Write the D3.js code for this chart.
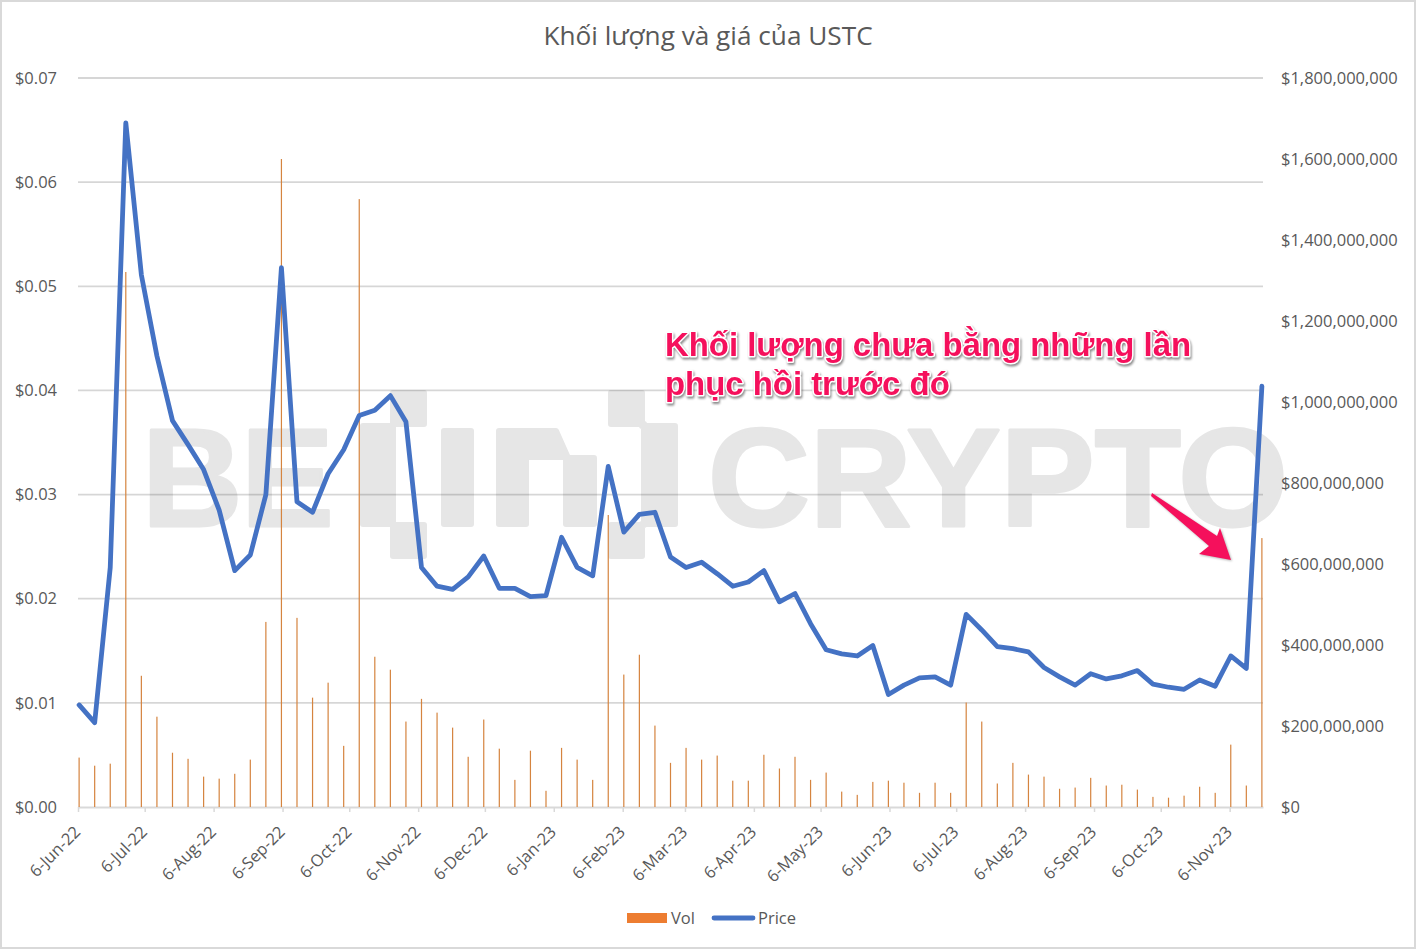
<!DOCTYPE html>
<html lang="vi">
<head>
<meta charset="utf-8">
<title>Khối lượng và giá của USTC</title>
<script src="https://cdn.jsdelivr.net/npm/d3@7/dist/d3.min.js"></script>
<style>
html,body{margin:0;padding:0;background:#fff;}
svg{display:block;}
text{font-family:"Open Sans",sans-serif;fill:#595959;}
</style>
</head>
<body>
<svg id="chart" width="1416" height="949"></svg>
<script>
const titleText = "Khối lượng và giá của USTC";
const noteLines = ["Khối lượng chưa bằng những lần", "phục hồi trước đó"];
const legendNames = ["Vol", "Price"];

const dates = [
"2022-06-06","2022-06-13","2022-06-20","2022-06-27","2022-07-04","2022-07-11","2022-07-18","2022-07-25",
"2022-08-01","2022-08-08","2022-08-15","2022-08-22","2022-08-29","2022-09-05","2022-09-12","2022-09-19","2022-09-26",
"2022-10-03","2022-10-10","2022-10-17","2022-10-24","2022-10-31","2022-11-07","2022-11-14","2022-11-21","2022-11-28",
"2022-12-05","2022-12-12","2022-12-19","2022-12-26","2023-01-02","2023-01-09","2023-01-16","2023-01-23","2023-01-30",
"2023-02-06","2023-02-13","2023-02-20","2023-02-27","2023-03-06","2023-03-13","2023-03-20","2023-03-27",
"2023-04-03","2023-04-10","2023-04-17","2023-04-24","2023-05-01","2023-05-08","2023-05-15","2023-05-22","2023-05-29",
"2023-06-05","2023-06-12","2023-06-19","2023-06-26","2023-07-03","2023-07-10","2023-07-17","2023-07-24","2023-07-31",
"2023-08-07","2023-08-14","2023-08-21","2023-08-28","2023-09-04","2023-09-11","2023-09-18","2023-09-25",
"2023-10-02","2023-10-09","2023-10-16","2023-10-23","2023-10-30","2023-11-06","2023-11-13","2023-11-20"];

// Weekly volume, millions of USD
const volume = [
122,102,107,1321,324,223,134,119,75,70,82,117,457,1600,467,270,307,151,1501,371,339,211,267,233,196,124,216,144,67,139,
40,146,117,67,721,327,376,201,109,146,117,127,65,65,129,95,124,67,85,38,30,62,65,60,35,60,35,258,211,58,109,80,75,45,48,72,
53,55,43,25,23,28,50,35,154,53,664];

// Weekly price, USD
const price = [
0.0098,0.0081,0.0230,0.0657,0.0511,0.0433,0.0371,0.0348,0.0324,0.0285,0.0227,0.0242,0.0300,0.0518,0.0293,0.0283,0.0320,
0.0343,0.0376,0.0381,0.0395,0.0370,0.0230,0.0212,0.0209,0.0221,0.0241,0.0210,0.0210,0.0202,0.0203,0.0259,0.0230,0.0222,
0.0327,0.0264,0.0281,0.0283,0.0240,0.0230,0.0235,0.0224,0.0212,0.0216,0.0227,0.0197,0.0205,0.0176,0.0151,0.0147,0.0145,
0.0155,0.0108,0.0117,0.0124,0.0125,0.0117,0.0185,0.0170,0.0154,0.0152,0.0149,0.0134,0.0125,0.0117,0.0128,0.0123,0.0126,
0.0131,0.0118,0.0115,0.0113,0.0122,0.0116,0.0145,0.0133,0.0404];

const tickDates = ["2022-06-06","2022-07-06","2022-08-06","2022-09-06","2022-10-06","2022-11-06","2022-12-06",
"2023-01-06","2023-02-06","2023-03-06","2023-04-06","2023-05-06","2023-06-06","2023-07-06","2023-08-06","2023-09-06",
"2023-10-06","2023-11-06"];
const priceTicks = [0,0.01,0.02,0.03,0.04,0.05,0.06,0.07];
const volumeTicks = [0,200,400,600,800,1000,1200,1400,1600,1800];

const parse = d3.utcParse("%Y-%m-%d");
const rows = dates.map((d,i)=>({date:parse(d),vol:volume[i],price:price[i]}));
const GRID="#d9d9d9", TEXT="#595959", ORANGE="#ed7d31", BLUE="#4472c4", PINK="#f5105c", MARK="#e6e6e6";

const m={l:78,r:1263,t:78,b:807};
const svg=d3.select("#chart");
const x=d3.scaleUtc().domain([parse("2022-06-06"),parse("2023-11-21")]).range([m.l,m.r]);
const cx=d=>x(d3.utcHour.offset(d,12));
const yP=d3.scaleLinear().domain([0,0.07]).range([m.b,m.t]);
const yV=d3.scaleLinear().domain([0,1800]).range([m.b,m.t]);

// frame
svg.append("rect").attr("x",1).attr("y",1).attr("width",1414).attr("height",947)
  .attr("fill","#fff").attr("stroke",GRID).attr("stroke-width",2);

// watermark (part of the background image)
const wm=svg.append("g").attr("class","watermark");
[["B",142],["E",241],["CRYPTO",708]].forEach(([t,px])=>{
  const el=wm.append("text").text(t).attr("x",px).attr("y",525.5)
    .attr("stroke",MARK).attr("stroke-width",3).attr("stroke-linejoin","round")
    .style("font-family","'Liberation Sans',sans-serif").style("font-weight",700).style("font-size","139px").style("fill",MARK);
  if(t==="CRYPTO") el.attr("textLength",580).attr("lengthAdjust","spacingAndGlyphs");
});
const wmShapes=[
 "M363 426H393V393H424V424H393V525H424V556H393V524H363Z",
 "M444 431H471V524H444Z",
 "M499 431H556L568 458H594V524H566V457H526V524H499Z",
 "M611 393H642V426H675V524H642V556H611V525H644V424H611Z"];
wm.selectAll("path").data(wmShapes).join("path").attr("d",d=>d).attr("fill",MARK)
  .attr("stroke",MARK).attr("stroke-width",6).attr("stroke-linejoin","round");

// grid
svg.append("g").selectAll("line").data(priceTicks.slice(1)).join("line")
  .attr("x1",m.l).attr("x2",m.r).attr("y1",d=>yP(d)).attr("y2",d=>yP(d))
  .attr("stroke","#000").attr("stroke-opacity",0.16).attr("stroke-width",1.8);

// axes
const fs="16.5px";
const axL=svg.append("g").attr("transform",`translate(${m.l},0)`)
  .call(d3.axisLeft(yP).tickValues(priceTicks).tickSize(0).tickPadding(21).tickFormat(d3.format("$.2f")));
const axR=svg.append("g").attr("transform",`translate(${m.r},0)`)
  .call(d3.axisRight(yV).tickValues(volumeTicks).tickSize(0).tickPadding(18).tickFormat(d=>d3.format("$,")(d*1e6)));
[axL,axR].forEach(a=>{a.select(".domain").remove();a.selectAll("text").style("font-size",fs).style("fill",TEXT).style("font-family",'"Open Sans",sans-serif');});

const axB=svg.append("g").attr("transform",`translate(0,${m.b})`)
  .call(d3.axisBottom(x).tickValues(tickDates.map(parse)).tickSize(5).tickSizeOuter(0).tickFormat(d3.utcFormat("%-d-%b-%y")));
axB.select(".domain").attr("stroke",GRID).attr("stroke-width",1.8);
axB.selectAll(".tick line").attr("stroke",GRID).attr("stroke-width",1.5);
axB.selectAll("text").style("font-size",fs).style("fill",TEXT).style("font-family",'"Open Sans",sans-serif')
  .attr("text-anchor","end").attr("dy",0).attr("y",0)
  .attr("transform","translate(3,26) rotate(-45)");

// volume bars
svg.append("g").selectAll("rect").data(rows).join("rect")
  .attr("x",d=>cx(d.date)-0.6).attr("width",1.2)
  .attr("y",d=>yV(d.vol)).attr("height",d=>yV(0)-yV(d.vol))
  .attr("fill","#d5843f");

// price line
svg.append("path").datum(rows)
  .attr("d",d3.line().x(d=>cx(d.date)).y(d=>yP(d.price)))
  .attr("fill","none").attr("stroke",BLUE).attr("stroke-width",4.8)
  .attr("stroke-linecap","round").attr("stroke-linejoin","round");

// title
svg.append("text").text(titleText).attr("x",708).attr("y",45).attr("text-anchor","middle")
  .style("font-size","26.2px").style("fill",TEXT);

// legend
const lg=svg.append("g");
lg.append("rect").attr("x",627).attr("y",913).attr("width",40).attr("height",10).attr("fill",ORANGE);
lg.append("text").text(legendNames[0]).attr("x",671).attr("y",924).style("font-size","16.5px").style("fill",TEXT);
lg.append("line").attr("x1",714).attr("x2",753).attr("y1",918).attr("y2",918)
  .attr("stroke",BLUE).attr("stroke-width",4.8).attr("stroke-linecap","round");
lg.append("text").text(legendNames[1]).attr("x",758).attr("y",924).style("font-size","16.5px").style("fill",TEXT);

// annotation
const note=svg.append("g").style("filter","drop-shadow(1px 2px 1px rgba(0,0,0,.45))");
note.selectAll("text").data(noteLines).join("text").text(d=>d)
  .attr("x",665).attr("y",(d,i)=>356+i*38.5)
  .attr("stroke","#fff").attr("stroke-width",3).attr("paint-order","stroke").attr("stroke-linejoin","round")
  .style("font-family","'Liberation Sans',sans-serif").style("font-weight",700).style("font-size","32.9px").style("fill",PINK);
svg.append("path").attr("d","M1152 493L1217 536L1220 528L1231 560L1199 554L1209 546L1151 496Z")
  .attr("fill",PINK).style("filter","drop-shadow(1px 1px 1px rgba(0,0,0,.3))");
</script>
</body>
</html>
